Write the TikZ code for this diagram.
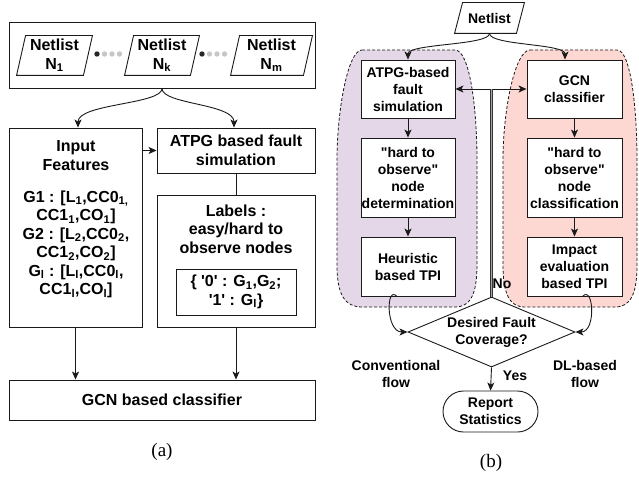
\documentclass[tikz,border=0pt]{standalone}
\usepackage{fontspec}
\setmainfont{Liberation Serif}
\setsansfont{Liberation Sans}
\usetikzlibrary{arrows.meta,shapes.geometric}
\definecolor{regl}{HTML}{E4D7E8}
\definecolor{regr}{HTML}{FDD8D3}
\definecolor{ink}{HTML}{1A1A1A}
\begin{document}
\begin{tikzpicture}[x=1pt,y=-1pt,line width=0.9pt,draw=ink,
  font=\sffamily\bfseries\fontsize{16}{18.5}\selectfont,
  box/.style={draw=ink,rectangle,inner sep=0pt,align=center,fill=white},
  txt/.style={align=center,inner sep=0pt},
  bfont/.style={font=\sffamily\bfseries\fontsize{14}{17}\selectfont},
  arr/.style={-{Stealth[length=8pt,width=7pt,inset=2pt]}},
  region/.style={dashed,line width=0.8pt,dash pattern=on 3pt off 2pt},
  capt/.style={font=\rmfamily\mdseries\fontsize{19}{22}\selectfont}]
\useasboundingbox (0,0) rectangle (639,476);

% ---------------- (a) ----------------
\node[box,minimum width=306pt,minimum height=66pt] (outer) at (162,55) {};
\node[txt,minimum width=66pt,minimum height=39pt] (n1) at (54.5,55.5) {Netlist\\N\textsubscript{1}};
\node[txt,minimum width=65pt,minimum height=39pt] (nk) at (162,55.5) {Netlist\\N\textsubscript{k}};
\node[txt,minimum width=72pt,minimum height=39pt] (nm) at (271.5,55.5) {Netlist\\N\textsubscript{m}};
\foreach \n in {n1,nk,nm}
  \draw ([xshift=4.5pt]\n.north west) -- ([xshift=4.5pt]\n.north east) -- ([xshift=-4.5pt]\n.south east) -- ([xshift=-4.5pt]\n.south west) -- cycle;
\foreach \x in {97,202} {
  \fill[gray!30!black] (\x,54) circle (2.7pt);
  \foreach \d in {7.5,15,22.5} \fill[gray!45] (\x+\d,54) circle (2.7pt);
}

\node[box,minimum width=133pt,minimum height=199pt] (inp) at (75.5,227.5) {};
\node[txt] (inph) at (76,155.5) {Input\\Features};
\node[txt] (inpg) at (76,244.5) {G1 : [L\textsubscript{1},CC0\textsubscript{1,}\\CC1\textsubscript{1},CO\textsubscript{1}]\\G2 : [L\textsubscript{2},CC0\textsubscript{2},\\CC1\textsubscript{2},CO\textsubscript{2}]\\G\textsubscript{l} : [L\textsubscript{l},CC0\textsubscript{l},\\CC1\textsubscript{l},CO\textsubscript{l}]};

\node[box,minimum width=158pt,minimum height=45pt] (atpg) at (236,150.5) {ATPG based fault\\simulation};
\node[box,minimum width=158pt,minimum height=132pt] (lab) at (236,261) {};
\node[txt] (labt) at (236,229) {Labels :\\easy/hard to\\observe nodes};
\node[box,minimum width=120pt,minimum height=46pt] (inner) at (236,292) {\{ \textquotesingle 0\textquotesingle\ : G\textsubscript{1},G\textsubscript{2};\\\textquotesingle 1\textquotesingle\ : G\textsubscript{l}\}};
\node[box,minimum width=306pt,minimum height=40pt] (gcn) at (162,400) {GCN based classifier};

\draw[arr] (outer.south) .. controls ([yshift=-16pt]outer.south) and ([xshift=2.5pt,yshift=24pt]inp.north) .. ([xshift=2.5pt]inp.north);
\draw[arr] (outer.south) .. controls ([yshift=-16pt]outer.south) and ([xshift=-2pt,yshift=24pt]atpg.north) .. ([xshift=-2pt]atpg.north);
\draw[arr] (inp.east |- atpg.west) -- (atpg.west);
\draw (atpg.south) -- (lab.north);
\draw[arr] (inp.south) -- (inp.south |- gcn.north);
\draw[arr] (lab.south) -- (lab.south |- gcn.north);
\node[capt] (capa) at (162,452) {(a)};

% ---------------- (b) ----------------
\draw[region,fill=regl] (362,50) -- (455,50) .. controls (470,50) and (477,110) .. (477,160) -- (477,265) .. controls (477,295) and (470,307) .. (455,307) -- (362,307) .. controls (345,307) and (337,295) .. (337,265) -- (337,160) .. controls (337,110) and (348,50) .. (362,50) -- cycle;
\draw[region,fill=regr] (530,50) -- (617,50) .. controls (631,50) and (637,110) .. (637,160) -- (637,265) .. controls (637,295) and (630,307) .. (615,307) -- (525,307) .. controls (510,307) and (503,295) .. (503,265) -- (503,160) .. controls (503,110) and (515,50) .. (530,50) -- cycle;

\node[txt,bfont,minimum width=61pt,minimum height=30pt] (nl) at (489.5,18) {Netlist};
\draw ([xshift=4pt]nl.north west) -- ([xshift=4pt]nl.north east) -- ([xshift=-4pt]nl.south east) -- ([xshift=-4pt]nl.south west) -- cycle;

\node[box,bfont,minimum width=94pt,minimum height=58pt] (atpgb) at (408,89) {ATPG-based\\fault\\simulation};
\node[box,bfont,minimum width=95pt,minimum height=58pt] (gcnb) at (574.5,89) {GCN\\classifier};
\node[box,bfont,minimum width=94pt,minimum height=79pt] (hardl) at (408,177.5) {\textquotedbl hard to\\observe\textquotedbl\\node\\determination};
\node[box,bfont,minimum width=95pt,minimum height=79pt] (hardr) at (574.5,177.5) {\textquotedbl hard to\\observe\textquotedbl\\node\\classification};
\node[box,bfont,minimum width=94pt,minimum height=59pt] (heur) at (408,266.5) {Heuristic\\based TPI};
\node[box,bfont,minimum width=95pt,minimum height=59pt] (imp) at (574.5,266.5) {Impact\\evaluation\\based TPI};
\node[diamond,draw=ink,bfont,align=center,inner sep=0pt,aspect=2.4,minimum width=167pt,minimum height=70pt] (dia) at (491.5,332) {Desired Fault\\Coverage?};
\node[box,bfont,minimum width=95pt,minimum height=41pt,rounded corners=20.5pt] (rep) at (490.5,411.5) {Report\\Statistics};

\draw[arr] (nl.south) .. controls ([yshift=-12pt]nl.south) and ([yshift=16pt]atpgb.north) .. (atpgb.north);
\draw[arr] (nl.south) .. controls ([yshift=-12pt]nl.south) and ([xshift=-9.5pt,yshift=16pt]gcnb.north) .. ([xshift=-9.5pt]gcnb.north);
\draw[arr] (atpgb.south) -- (hardl.north);
\draw[arr] (hardl.south) -- (heur.north);
\draw[arr] (gcnb.south) -- (hardr.north);
\draw[arr] (hardr.south) -- (imp.north);
\coordinate (junc) at (dia.north |- atpgb.east);
\draw[arr] (junc) -- (atpgb.east);
\draw[arr] (junc) -- (gcnb.west);
\draw[line width=0.8pt,draw=gray!40!black,double=gray!70,double distance=1pt] (dia.north) -- (junc);
\draw[arr] ([xshift=-11pt]heur.south) .. controls ([xshift=-22pt,yshift=12pt]heur.south) and ([xshift=-22pt]dia.west) .. (dia.west);
\draw[arr] ([xshift=8pt]imp.south) .. controls ([xshift=19pt,yshift=12pt]imp.south) and ([xshift=21pt]dia.east) .. (dia.east);
\draw[arr] (dia.south) -- (rep.north);
\node[txt,bfont] (no) at (502,284) {No};
\node[txt,bfont] (yes) at (515,376) {Yes};
\node[txt,bfont] (conv) at (396,373.5) {Conventional\\flow};
\node[txt,bfont] (dl) at (585,373.5) {DL-based\\flow};
\node[capt] (capb) at (491,463) {(b)};
\end{tikzpicture}
\end{document}
